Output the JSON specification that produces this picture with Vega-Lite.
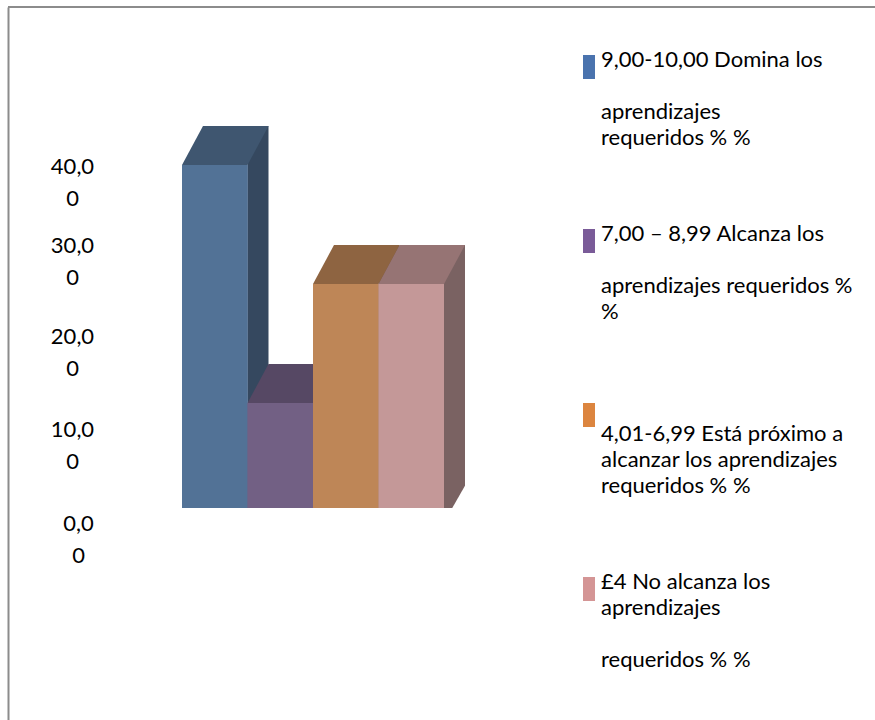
{
  "$schema": "https://vega.github.io/schema/vega-lite/v6.json",
  "width": 867,
  "height": 713,
  "autosize": {"type": "none"},
  "padding": {"left": 8, "top": 7, "right": 0, "bottom": 0},
  "background": "white",
  "config": {
    "view": {"stroke": null},
    "font": "Lato",
    "style": {"guide-label": {"lineHeight": 26}}
  },
  "data": {
    "values": [
      {"categoria": "9,00-10,00 Domina los aprendizajes requeridos % %", "porcentaje": 38.28},
      {"categoria": "7,00 – 8,99 Alcanza los aprendizajes requeridos % %", "porcentaje": 11.72},
      {"categoria": "4,01-6,99 Está próximo a alcanzar los aprendizajes requeridos % %", "porcentaje": 25.0},
      {"categoria": "£4 No alcanza los aprendizajes requeridos % %", "porcentaje": 25.0}
    ]
  },
  "resolve": {"scale": {"fill": "independent"}},
  "layer": [
    {
      "mark": {"type": "bar"},
      "encoding": {
        "x": {
          "field": "categoria", "type": "nominal", "sort": null,
          "scale": {"range": [174, 436], "paddingInner": 0, "paddingOuter": 0},
          "axis": null
        },
        "y": {
          "field": "porcentaje", "type": "quantitative",
          "scale": {"domain": [-23.66, 55.92], "nice": false, "zero": false},
          "axis": {
            "orient": "left", "title": null, "values": [0, 10, 20, 30, 40],
            "labelExpr": "[slice(replace(format(datum.value,'.2f'),'.',','),0,-1), slice(replace(format(datum.value,'.2f'),'.',','),-1)]",
            "labelFont": "Lato", "labelFontSize": 22, "labelColor": "black",
            "labelAlign": "center", "labelBaseline": "alphabetic",
            "labelLineHeight": 32,
            "labelPadding": {"condition": {"test": "datum.value == 0", "value": -70}, "value": -64},
            "labelOffset": {"condition": [
              {"test": "datum.value == 40", "value": 24},
              {"test": "datum.value == 30", "value": 13},
              {"test": "datum.value == 20", "value": 15},
              {"test": "datum.value == 10", "value": 18}
            ], "value": 22},
            "ticks": false, "tickSize": 0, "grid": false,
            "domain": true, "domainColor": "#8c8c8c", "domainWidth": 2,
            "labelOverlap": false, "labelFlush": false, "offset": 0
          }
        },
        "y2": {"datum": 0},
        "color": {
          "field": "categoria", "type": "nominal", "sort": null,
          "scale": {"range": ["#4A73AE", "#7A5B98", "#DC853F", "#D49595"]},
          "legend": {
            "orient": "none", "legendX": 569, "legendY": 48, "title": null,
            "symbolType": "M -0.5 -1 L 0.5 -1 L 0.5 1 L -0.5 1 Z", "symbolSize": 576, "symbolStrokeWidth": 0,
            "labelFont": "Lato", "labelFontSize": 22, "labelColor": "black",
            "labelBaseline": "alphabetic", "labelLimit": 600, "labelOffset": 0,
            "rowPadding": 74, "padding": 0,
            "labelExpr": "indexof(datum.label,'9,00')==0 ? ['9,00-10,00 Domina los','\u200b','aprendizajes','requeridos % %'] : indexof(datum.label,'7,00')==0 ? ['7,00 – 8,99 Alcanza los','\u200b','aprendizajes requeridos %','%'] : indexof(datum.label,'4,01')==0 ? ['\u200b','4,01-6,99 Está próximo a','alcanzar los aprendizajes','requeridos % %'] : ['£4 No alcanza los','aprendizajes','\u200b','requeridos % %']"
          }
        }
      }
    },
    {
      "transform": [{"aggregate": [{"op": "count", "as": "n"}]}],
      "mark": {"type": "rule", "color": "#8c8c8c", "strokeWidth": 2},
      "encoding": {
        "y": {"datum": 55.92, "type": "quantitative", "axis": {"title": null}}
      }
    },
    {
      "mark": {"type": "bar", "width": 21, "xOffset": 43.25, "yOffset": -39},
      "encoding": {
        "x": {"field": "categoria", "type": "nominal", "sort": null, "axis": null},
        "y": {"field": "porcentaje", "type": "quantitative", "axis": {"title": null}},
        "y2": {"datum": 0},
        "fill": {
          "field": "categoria", "type": "nominal", "sort": null, "legend": null,
          "scale": {"range": ["#35485F", "#463A52", "#73502F", "#7A6262"]}
        }
      }
    },
    {
      "mark": {"type": "point", "shape": "M 41 0 L 57 -28 L 57 2 L 41 2 Z", "size": 4, "filled": true, "fill": "white", "opacity": 1, "strokeWidth": 0},
      "encoding": {
        "x": {"field": "categoria", "type": "nominal", "sort": null, "axis": null},
        "y": {"datum": 0, "type": "quantitative", "axis": {"title": null}}
      }
    },
    {
      "mark": {"type": "point", "shape": "M -32.75 0 L 32.75 0 L 53.75 -39 L -11.75 -39 Z", "size": 4, "filled": true, "opacity": 1, "strokeWidth": 0},
      "encoding": {
        "x": {"field": "categoria", "type": "nominal", "sort": null, "axis": null},
        "y": {"field": "porcentaje", "type": "quantitative", "axis": {"title": null}},
        "fill": {
          "field": "categoria", "type": "nominal", "sort": null, "legend": null,
          "scale": {"range": ["#3F5670", "#564864", "#8E6441", "#967474"]}
        }
      }
    },
    {
      "mark": {"type": "bar"},
      "encoding": {
        "x": {"field": "categoria", "type": "nominal", "sort": null, "axis": null},
        "y": {"field": "porcentaje", "type": "quantitative", "axis": {"title": null}},
        "y2": {"datum": 0},
        "fill": {
          "field": "categoria", "type": "nominal", "sort": null, "legend": null,
          "scale": {"range": ["#527296", "#726084", "#BE8657", "#C49898"]}
        }
      }
    }
  ]
}
